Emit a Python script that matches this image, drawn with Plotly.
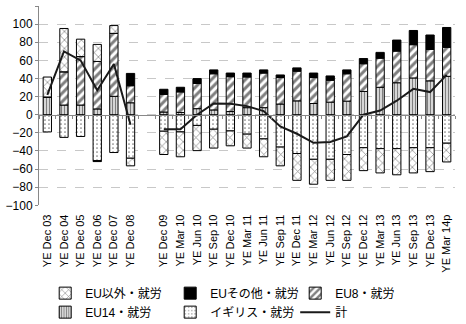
import plotly.graph_objects as go

categories = ["YE Dec 03", "YE Dec 04", "YE Dec 05", "YE Dec 06", "YE Dec 07", "YE Dec 08", " ",
              "YE Dec 09", "YE Mar 10", "YE Jun 10", "YE Sep 10", "YE Dec 10", "YE Mar 11",
              "YE Jun 11", "YE Sep 11", "YE Dec 11", "YE Mar 12", "YE Jun 12", "YE Sep 12",
              "YE Dec 12", "YE Mar 13", "YE Jun 13", "YE Sep 13", "YE Dec 13", "YE Mar 14p"]

uk = [-19, -25, -24, -50.7, -41.7, -48, None,
      -18.2, -19, -11.8, -16, -17.9, -21.4, -26.7, -35.7, -42.8, -49.2, -49.2, -43.9,
      -36.4, -37.4, -37.4, -36.4, -36.4, -31.4]
eu14 = [19.6, 10.7, 10.7, 6.4, 20.3, 13.2, None,
        3, 2.5, 6.7, 5.3, 3.5, 7.8, 7.8, 11.8, 15.3, 12.4, 13.9, 15,
        25.7, 30.3, 35.3, 40.6, 37.4, 42.4]
eu8 = [0, 36.7, 53.5, 52.4, 69.5, 18.8, None,
       19.5, 22.7, 27.8, 39.9, 38.5, 33.9, 38.2, 29.2, 32.8, 28.6, 24.2, 30.2,
       30.6, 32.1, 34.9, 36.7, 34.6, 32]
eu_other = [0, 0, 0, -1, 0, 13.6, None,
            5.6, 5.1, 5.4, 4.3, 4, 4.3, 3.5, 2.9, 3.6, 5, 4.7, 4.3,
            5.7, 6.4, 12.2, 15.7, 16, 21.9]
non_eu = [22, 47.8, 19.2, 18.8, 8.6, -8.4, None,
          -25.7, -27.4, -27.8, -20.8, -16.4, -15.4, -19.7, -20.7, -29.6, -27.5, -23.2, -28.5,
          -25.3, -26.8, -28.9, -27.8, -26.4, -20.7]
total = [22, 70, 60, 27, 56, -11, None,
         -16, -16, 0, 12.5, 12, 9.5, 4, -13, -21, -31, -30, -24,
         0, 4.6, 15.5, 28.6, 25, 44]

names = {
    "non_eu": "EU以外・就労",
    "eu_other": "EUその他・就労",
    "eu8": "EU8・就労",
    "eu14": "EU14・就労",
    "uk": "イギリス・就労",
    "total": "計",
}

FONT = "Liberation Sans, Arial, Noto Sans CJK JP"

def bar(y, name, rank, shape, size, solidity, solid=False):
    marker = dict(line=dict(color="black", width=1))
    if solid:
        marker["color"] = "black"
    else:
        marker["color"] = "white"
        marker["pattern"] = dict(shape=shape, fgcolor="black", bgcolor="white",
                                 size=size, solidity=solidity, fillmode="overlay")
    return go.Bar(x=categories, y=y, name=name, legendrank=rank, marker=marker, width=0.5)

fig = go.Figure()
fig.add_trace(bar(uk, names["uk"], 5, ".", 4, 0.15))
fig.add_trace(bar(eu14, names["eu14"], 4, "|", 3, 0.55))
fig.add_trace(bar(eu8, names["eu8"], 3, "/", 6, 0.5))
fig.add_trace(bar(eu_other, names["eu_other"], 2, "", 0, 0, solid=True))
fig.add_trace(bar(non_eu, names["non_eu"], 1, "x", 6, 0.22))
fig.add_trace(go.Scatter(x=categories, y=total, name=names["total"], legendrank=6,
                         mode="lines", line=dict(color="#1a1a1a", width=2),
                         connectgaps=False, xaxis="x2"))

zero_pos = 100 / 220

fig.update_layout(
    width=466, height=324,
    margin=dict(l=36, r=11, t=6, b=112),
    barmode="relative",
    bargap=0.5,
    plot_bgcolor="white", paper_bgcolor="white",
    font=dict(family=FONT, size=12, color="black"),
    showlegend=True,
    legend=dict(orientation="h", xref="container", yref="container",
                x=0.097, xanchor="left", y=0.14, yanchor="top",
                entrywidth=80, entrywidthmode="pixels",
                font=dict(family=FONT, size=12), itemwidth=30,
                tracegroupgap=0),
    xaxis=dict(type="category", categoryorder="array", categoryarray=categories,
               tickangle=-90, tickfont=dict(family=FONT, size=11),
               showgrid=False, showline=False, ticks="", zeroline=False,
               ticklabelstandoff=6,
               range=[-0.5, len(categories) - 0.5]),
    xaxis2=dict(type="category", categoryorder="array", categoryarray=categories,
                overlaying="x", matches="x", anchor="free", position=zero_pos,
                showticklabels=False, ticks="outside", ticklen=3, tickcolor="#888",
                tickson="boundaries", showline=True, linecolor="#888", linewidth=1,
                showgrid=False, zeroline=False),
    yaxis=dict(range=[-100, 120], dtick=20, showgrid=True, gridcolor="#c8c8c8",
               griddash="dash", gridwidth=1, zeroline=False,
               showline=True, linecolor="#888", ticks="outside", ticklen=3,
               tickcolor="#888", tickfont=dict(family=FONT, size=12)),
)

fig.write_html("out.html")
